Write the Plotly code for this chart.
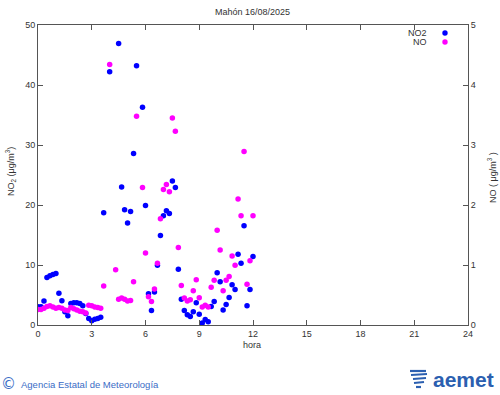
import plotly.graph_objects as go

# ---- data (10-minute slots, hour = slot/6) ----
no2 = [3.05, 3.05, 4.0, 7.9, 8.2, 8.4, 8.6, 5.3, 4.05, 2.2, 1.55,
       3.6, 3.7, 3.7, 3.6, 3.2, 1.9, 1.1, 0.7, 0.95, 1.1, 1.3,
       18.7, None, 42.2, None, None, 46.9, 23.0, 19.2, 17.0, 18.9,
       28.6, 43.2, None, 36.3, 19.9, 5.2, 2.4, 5.5, 9.95, 14.9,
       18.2, 19.05, 18.6, 24.0, 22.9, 9.3, 4.3, 2.4, 1.7, 1.4,
       2.2, 3.7, 1.8, 0.33, 0.9, 0.55, 3.1, 3.9, 8.7, 7.2,
       2.5, 3.4, 4.6, 6.7, 5.9, 11.8, 10.3, 16.55, 3.2, 5.9, 11.4]
no = [0.26, 0.26, 0.28, 0.31, 0.32, 0.30, 0.28, 0.29, 0.28, 0.25, 0.24,
      0.29, 0.27, 0.25, 0.23, 0.22, 0.20, 0.33, 0.32, 0.30, 0.29, 0.28,
      0.65, None, 4.34, None, 0.92, 0.43, 0.45, 0.43, 0.40, 0.41,
      0.72, 3.48, None, 2.29, 1.2, 0.47, 0.39, 0.6, 1.03, 1.77,
      2.26, 2.34, 2.22, 3.45, 3.23, 1.29, 0.66, 0.45, 0.40, 0.42,
      0.57, 0.755, 0.455, 0.30, 0.33, 0.30, 0.63, 0.745, 1.58, 1.25,
      0.57, 0.745, 0.81, 1.15, 0.995, 2.1, 1.82, 2.89, 0.68, 1.07, 1.82]
hours = [i / 6 for i in range(len(no2))]
x_ticks = [0, 3, 6, 9, 12, 15, 18, 21, 24]
y_ticks = [0, 10, 20, 30, 40, 50]
y2_ticks = [0, 1, 2, 3, 4, 5]

BLUE = "#0000ff"
MAG = "#ff00ff"
AX = "#555555"
TXT = "#333333"
FONT = "Liberation Sans"

fig = go.Figure()
fig.add_trace(go.Scatter(x=hours, y=no2, mode="markers", name="NO2",
                         marker=dict(color=BLUE, size=5.5), yaxis="y"))
fig.add_trace(go.Scatter(x=hours, y=no, mode="markers", name="NO",
                         marker=dict(color=MAG, size=5.5), yaxis="y2"))

axis_common = dict(showline=True, linecolor=AX, linewidth=1, ticks="inside",
                   ticklen=5, tickcolor=AX, showgrid=False, zeroline=False,
                   tickfont=dict(family=FONT, size=9, color=TXT))

fig.update_layout(
    width=500, height=395,
    margin=dict(l=38, r=32, t=25, b=70),
    paper_bgcolor="white", plot_bgcolor="white",
    showlegend=False,
    xaxis=dict(range=[0, 24], tickvals=x_ticks, mirror="ticks", **axis_common),
    yaxis=dict(range=[0, 50], tickvals=y_ticks, **axis_common),
    yaxis2=dict(range=[0, 5], tickvals=y2_ticks, overlaying="y", side="right",
                **axis_common),
)

def px_x(p):
    return (p - 38) / 430

def px_y(p):
    return (325 - p) / 300

ann = [
    dict(text="Mahón 16/08/2025", x=px_x(252), y=px_y(12), size=9, color=TXT),
    dict(text="hora", x=px_x(252), y=px_y(345), size=9, color=TXT),
    dict(text="NO<sub>2</sub> (μg/m<sup>3</sup>)", x=px_x(10), y=px_y(172),
         size=9, color=TXT, angle=-90),
    dict(text="NO ( μg/m<sup>3</sup> )", x=px_x(492), y=px_y(178),
         size=9, color=TXT, angle=-90),
]
for a in ann:
    fig.add_annotation(text=a["text"], x=a["x"], y=a["y"], xref="paper",
                       yref="paper", showarrow=False, textangle=a.get("angle", 0),
                       font=dict(family=FONT, size=a["size"], color=a["color"]),
                       xanchor="center", yanchor="middle")

# legend (text right of marker, gnuplot style)
for label, col, py in [("NO2", BLUE, 33), ("NO", MAG, 42)]:
    fig.add_annotation(text=label, x=px_x(429), y=px_y(py), xref="paper",
                       yref="paper", showarrow=False, xanchor="right",
                       yanchor="middle", font=dict(family=FONT, size=9, color=TXT))
    r = 2.7
    fig.add_shape(type="circle", xref="paper", yref="paper",
                  x0=px_x(445 - r), x1=px_x(445 + r), y0=px_y(py + r), y1=px_y(py - r),
                  fillcolor=col, line=dict(width=0))

# footer
FOOT = "#3a6cc6"
fig.add_annotation(text="©", x=px_x(9), y=px_y(384), xref="paper", yref="paper",
                   showarrow=False, xanchor="center", yanchor="middle",
                   font=dict(family="DejaVu Sans", size=15, color=FOOT))
fig.add_annotation(text="Agencia Estatal de Meteorología", x=px_x(19), y=px_y(384),
                   xref="paper", yref="paper", showarrow=False, xanchor="left",
                   yanchor="middle", font=dict(family=FONT, size=9.5, color=FOOT))
LOGO = "#2b5fb0"
fig.add_annotation(text="<b>aemet</b>", x=px_x(496), y=px_y(379), xref="paper",
                   yref="paper", showarrow=False, xanchor="right", yanchor="middle",
                   font=dict(family="Liberation Sans", size=21, color=LOGO))
# stylised logo icon
for (x0, y0, x1, y1) in [(410, 371, 426, 371), (411, 375, 427, 374), (413, 379, 426, 378),
                         (414, 383, 424, 382), (416, 387, 421, 387)]:
    fig.add_shape(type="line", xref="paper", yref="paper",
                  x0=px_x(x0), y0=px_y(y0), x1=px_x(x1), y1=px_y(y1),
                  line=dict(color=LOGO, width=2.2))

fig.write_html("out.html", config={"displayModeBar": False},
               post_script="document.body.style.margin='0';document.body.style.padding='0';")
